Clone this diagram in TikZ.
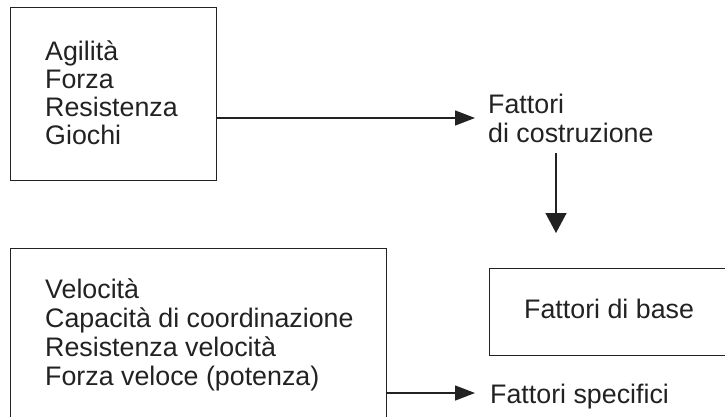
\documentclass[tikz,border=0pt]{standalone}
\usepackage{fontspec}
\setmainfont{Liberation Sans}
\usetikzlibrary{arrows.meta,calc}
\definecolor{ink}{RGB}{34,34,34}
\tikzset{
  box/.style={draw=ink, line width=1.4pt, rectangle, inner sep=0pt, anchor=north west},
  lbl/.style={text=ink, inner sep=0pt, anchor=base west,
    font=\fontsize{26.8}{28.5}\selectfont},
  arrh/.style={draw=ink, line width=1.4pt, -{Triangle[length=20pt,width=15pt]}},
  arrv/.style={draw=ink, line width=1.4pt, -{Triangle[length=20pt,width=21pt]}}
}
\begin{document}
\begin{tikzpicture}[x=1pt,y=-1pt]
\useasboundingbox (0,0) rectangle (725,416);
% boxes
\node[box, minimum width=206pt, minimum height=173pt] (b1) at (10,7) {};
\node[box, minimum width=376pt, minimum height=200pt] (b2) at (10,248) {};
\node[box, minimum width=260pt, minimum height=87pt] (fb) at (489,268) {};
% texts in upper box
\node[lbl] (a1) at (45,60) {Agilità};
\node[lbl] (a2) at (45,88) {Forza};
\node[lbl] (a3) at (45,116) {Resistenza};
\node[lbl] (a4) at (45,144) {Giochi};
% texts in lower box
\node[lbl] (v1) at (45,298) {Velocità};
\node[lbl] (v2) at (45,327) {Capacità di coordinazione};
\node[lbl] (v3) at (45,356) {Resistenza velocità};
\node[lbl] (v4) at (45,385) {Forza veloce (potenza)};
% right-hand labels
\node[lbl] (fc1) at (488,113) {Fattori};
\node[lbl] (fc2) at (488,142) {di costruzione};
\node[lbl] (fbt) at (524,318) {Fattori di base};
\node[lbl] (fs) at (490,403) {Fattori specifici};
% connectors
\coordinate (fcin) at (475,118);
\coordinate (fsin) at (475,393);
\coordinate (vx) at (556,0);
\draw[arrh] (b1.east |- fcin) -- (fcin);
\draw[arrv, shorten <=11pt, shorten >=35pt] (vx |- fc2.base) -- (vx |- fb.north);
\draw[arrh] (b2.east |- fsin) -- (fsin);
\end{tikzpicture}
\end{document}
